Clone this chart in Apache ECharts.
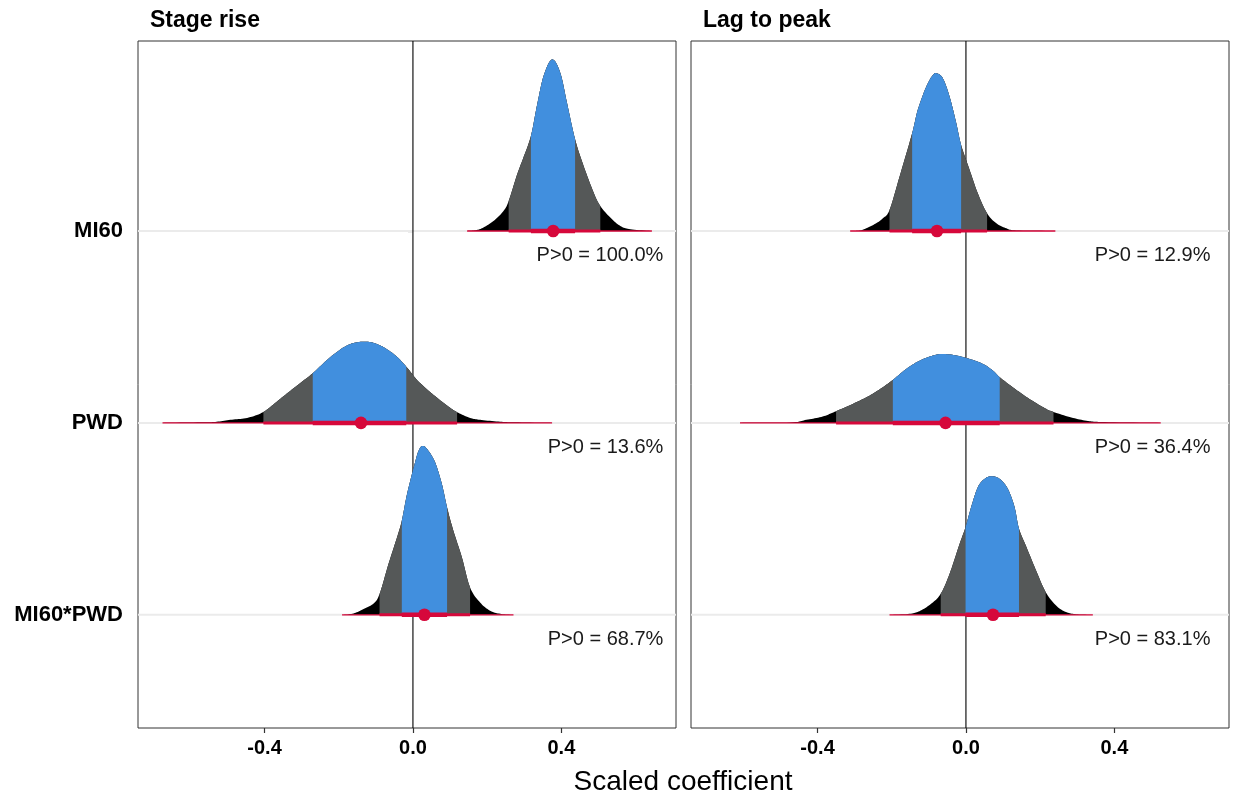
<!DOCTYPE html>
<html>
<head>
<meta charset="utf-8">
<title>Scaled coefficient posteriors</title>
<script src="https://cdn.jsdelivr.net/npm/echarts@6/dist/echarts.min.js"></script>
<style>
  html, body { margin: 0; padding: 0; background: #ffffff; }
  #chart { width: 1233px; height: 796px; }
</style>
</head>
<body>
<div id="chart"></div>
<script>
// ---- data -------------------------------------------------------------
const categories = ['MI60', 'PWD', 'MI60*PWD'];
const panelTitles = ['Stage rise', 'Lag to peak'];
const xTicks = [-0.4, 0, 0.4];

// Posterior density outlines: coefficient value (x) and slab height in row units (h)
const stageMI60X = [0.146, 0.172, 0.190, 0.217, 0.244, 0.258, 0.280, 0.298, 0.318, 0.334, 0.352, 0.375, 0.397, 0.415, 0.437, 0.460, 0.487, 0.505, 0.532, 0.559, 0.586, 0.644];
const stageMI60H = [0, 0.005, 0.018, 0.052, 0.104, 0.156, 0.290, 0.384, 0.495, 0.651, 0.807, 0.894, 0.825, 0.669, 0.478, 0.339, 0.200, 0.130, 0.070, 0.026, 0.009, 0];

const stagePWDX = [-0.675, -0.573, -0.533, -0.492, -0.447, -0.403, -0.358, -0.313, -0.270, -0.223, -0.178, -0.137, -0.097, -0.052, -0.018, 0.011, 0.047, 0.092, 0.119, 0.154, 0.181, 0.235, 0.276, 0.375];
const stagePWDH = [0, 0.003, 0.005, 0.016, 0.026, 0.057, 0.125, 0.194, 0.259, 0.342, 0.403, 0.423, 0.411, 0.359, 0.293, 0.224, 0.160, 0.090, 0.056, 0.026, 0.016, 0.006, 0.003, 0];

const stageIntX = [-0.191, -0.160, -0.133, -0.106, -0.090, -0.066, -0.043, -0.030, -0.016, 0.002, 0.015, 0.027, 0.042, 0.060, 0.078, 0.092, 0.109, 0.132, 0.154, 0.181, 0.208, 0.235, 0.271];
const stageIntH = [0, 0.007, 0.030, 0.059, 0.108, 0.264, 0.403, 0.490, 0.628, 0.767, 0.854, 0.880, 0.854, 0.793, 0.681, 0.559, 0.438, 0.299, 0.142, 0.064, 0.021, 0.005, 0];

const lagMI60X = [-0.312, -0.287, -0.269, -0.242, -0.224, -0.206, -0.179, -0.145, -0.130, -0.107, -0.089, -0.078, -0.062, -0.044, -0.026, -0.013, 0.010, 0.032, 0.057, 0.082, 0.109, 0.136, 0.241];
const lagMI60H = [0, 0.002, 0.014, 0.040, 0.066, 0.109, 0.283, 0.509, 0.630, 0.752, 0.813, 0.821, 0.795, 0.700, 0.561, 0.448, 0.318, 0.196, 0.092, 0.040, 0.014, 0.003, 0];

const lagPWDX = [-0.609, -0.473, -0.430, -0.386, -0.350, -0.305, -0.260, -0.224, -0.197, -0.161, -0.125, -0.089, -0.062, -0.026, 0.010, 0.046, 0.073, 0.091, 0.126, 0.171, 0.216, 0.236, 0.284, 0.329, 0.374, 0.525];
const lagPWDH = [0, 0.002, 0.016, 0.033, 0.061, 0.099, 0.142, 0.186, 0.224, 0.281, 0.324, 0.351, 0.359, 0.351, 0.333, 0.307, 0.272, 0.238, 0.186, 0.125, 0.073, 0.057, 0.028, 0.010, 0.004, 0];

const lagIntX = [-0.206, -0.152, -0.125, -0.094, -0.068, -0.044, -0.017, -0.001, 0.014, 0.032, 0.050, 0.068, 0.091, 0.113, 0.131, 0.143, 0.163, 0.189, 0.215, 0.243, 0.270, 0.297, 0.342];
const lagIntH = [0, 0.005, 0.019, 0.057, 0.109, 0.214, 0.370, 0.457, 0.561, 0.665, 0.708, 0.722, 0.708, 0.656, 0.561, 0.448, 0.353, 0.231, 0.118, 0.048, 0.014, 0.003, 0];

// Point estimates (median), 66% and 95% intervals, probability of a positive effect
const stagePoint = [0.378, -0.140, 0.031];
const stageInner = [[0.318, 0.437], [-0.270, -0.018], [-0.030, 0.092]];
const stageOuter = [[0.258, 0.505], [-0.403, 0.119], [-0.090, 0.154]];
const stageProb = ['100.0%', '13.6%', '68.7%'];

const lagPoint = [-0.078, -0.055, 0.073];
const lagInner = [[-0.145, -0.013], [-0.197, 0.091], [-0.001, 0.143]];
const lagOuter = [[-0.206, 0.057], [-0.350, 0.236], [-0.068, 0.215]];
const lagProb = ['12.9%', '36.4%', '83.1%'];

// ---- styling ------------------------------------------------------------
const FONT = '"Liberation Sans", Arial, Helvetica, sans-serif';
const BLUE = '#418fde';
const GREY = '#555858';
const TAIL = '#000000';
const RED = '#d6083b';
const X_MIN = -0.741, X_MAX = 0.709;
const Y_MIN = 0.41, Y_MAX = 3.99;

const panels = [
  {
    title: panelTitles[0],
    dens: [{ x: stageMI60X, h: stageMI60H }, { x: stagePWDX, h: stagePWDH }, { x: stageIntX, h: stageIntH }],
    point: stagePoint, inner: stageInner, outer: stageOuter, prob: stageProb, labelX: 0.675
  },
  {
    title: panelTitles[1],
    dens: [{ x: lagMI60X, h: lagMI60H }, { x: lagPWDX, h: lagPWDH }, { x: lagIntX, h: lagIntH }],
    point: lagPoint, inner: lagInner, outer: lagOuter, prob: lagProb, labelX: 0.659
  }
];

const rowOf = i => categories.length - i;

// Smooth the outline in screen space (Catmull-Rom), never dipping below the baseline
function smoothOutline(pts, base) {
  const out = [];
  const n = pts.length;
  const steps = 10;
  for (let k = 0; k < n - 1; k++) {
    const p0 = pts[Math.max(k - 1, 0)], p1 = pts[k], p2 = pts[k + 1], p3 = pts[Math.min(k + 2, n - 1)];
    for (let s = 0; s < steps; s++) {
      const t = s / steps, t2 = t * t, t3 = t2 * t;
      const x = 0.5 * ((2 * p1[0]) + (-p0[0] + p2[0]) * t + (2 * p0[0] - 5 * p1[0] + 4 * p2[0] - p3[0]) * t2 + (-p0[0] + 3 * p1[0] - 3 * p2[0] + p3[0]) * t3);
      const y = 0.5 * ((2 * p1[1]) + (-p0[1] + p2[1]) * t + (2 * p0[1] - 5 * p1[1] + 4 * p2[1] - p3[1]) * t2 + (-p0[1] + 3 * p1[1] - 3 * p2[1] + p3[1]) * t3);
      out.push([x, Math.min(y, base)]);
    }
  }
  out.push([pts[n - 1][0], base]);
  return out;
}

// Part of the slab between two screen x positions, closed along the baseline
function clipOutline(pts, x0, x1, base) {
  const out = [];
  for (let k = 0; k < pts.length; k++) {
    const a = pts[k];
    if (a[0] >= x0 && a[0] <= x1) out.push(a);
    if (k < pts.length - 1) {
      const b = pts[k + 1];
      [x0, x1].forEach(xc => {
        if ((a[0] - xc) * (b[0] - xc) < 0) {
          const t = (xc - a[0]) / (b[0] - a[0]);
          out.push([xc, a[1] + t * (b[1] - a[1])]);
        }
      });
    }
  }
  if (!out.length) return out;
  out.push([out[out.length - 1][0], base], [out[0][0], base]);
  return out;
}

function slabRenderer(panel) {
  return function (params, api) {
    const i = params.dataIndex;
    const row = rowOf(i);
    const d = panel.dens[i];
    const base = api.coord([0, row])[1];
    const raw = d.x.map((x, k) => api.coord([x, row + d.h[k]]));
    const outline = smoothOutline(raw, base);
    const px = v => api.coord([v, row])[0];

    const children = [];
    children.push({ type: 'polygon', shape: { points: outline }, style: { fill: TAIL } });
    children.push({ type: 'polygon', shape: { points: clipOutline(outline, px(panel.outer[i][0]), px(panel.outer[i][1]), base) }, style: { fill: GREY } });
    children.push({ type: 'polygon', shape: { points: clipOutline(outline, px(panel.inner[i][0]), px(panel.inner[i][1]), base) }, style: { fill: BLUE } });

    const seg = (a, b, w) => ({
      type: 'line',
      shape: { x1: px(a), y1: base, x2: px(b), y2: base },
      style: { stroke: RED, lineWidth: w, lineCap: 'butt' }
    });
    children.push(seg(d.x[0], d.x[d.x.length - 1], 1.3));
    children.push(seg(panel.outer[i][0], panel.outer[i][1], 3));
    children.push(seg(panel.inner[i][0], panel.inner[i][1], 4.5));
    const c = api.coord([panel.point[i], row]);
    children.push({ type: 'circle', shape: { cx: c[0], cy: c[1], r: 6.3 }, style: { fill: RED } });

    children.push({
      type: 'text',
      style: {
        text: 'P>0 = ' + panel.prob[i],
        x: px(panel.labelX), y: base + 25,
        align: 'right', verticalAlign: 'middle',
        font: '20px ' + FONT, fill: '#1a1a1a'
      }
    });
    return { type: 'group', children };
  };
}

function gridlineRenderer(params, api) {
  const cs = params.coordSys;
  const y = api.coord([0, rowOf(params.dataIndex)])[1];
  return {
    type: 'line',
    shape: { x1: cs.x, y1: y, x2: cs.x + cs.width, y2: y },
    style: { stroke: '#ebebeb', lineWidth: 2 }
  };
}

function zeroRenderer(params, api) {
  const top = api.coord([0, Y_MAX]);
  const bottom = api.coord([0, Y_MIN]);
  return {
    type: 'line',
    shape: { x1: top[0], y1: top[1], x2: bottom[0], y2: bottom[1] },
    style: { stroke: '#000000', lineWidth: 1.1 }
  };
}

const gridBoxes = [
  { left: 138, top: 41, width: 538, height: 687 },
  { left: 691, top: 41, width: 538, height: 687 }
];

const option = {
  animation: false,
  backgroundColor: '#ffffff',
  textStyle: { fontFamily: FONT },
  grid: gridBoxes.map(g => Object.assign({ show: true, borderColor: '#333333', borderWidth: 1, backgroundColor: '#ffffff', containLabel: false }, g)),
  xAxis: panels.map((p, gi) => ({
    type: 'value', gridIndex: gi, min: X_MIN, max: X_MAX,
    axisLine: { show: false },
    splitLine: { show: false },
    axisTick: { show: true, customValues: xTicks, length: 5, lineStyle: { color: '#333333', width: 1.2 } },
    axisLabel: {
      show: true, customValues: xTicks, margin: 10,
      formatter: v => Number(v).toFixed(1),
      fontSize: 20, fontWeight: 'bold', color: '#000000', fontFamily: FONT
    }
  })),
  yAxis: panels.map((p, gi) => ({
    type: 'value', gridIndex: gi, min: Y_MIN, max: Y_MAX,
    axisLine: { show: false },
    splitLine: { show: false },
    axisTick: { show: gi === 0, customValues: [1, 2, 3], length: 5, lineStyle: { color: '#333333', width: 1.2 } },
    axisLabel: {
      show: gi === 0, customValues: [1, 2, 3], margin: 15,
      formatter: v => categories[categories.length - Math.round(v)],
      fontSize: 22, fontWeight: 'bold', color: '#000000', fontFamily: FONT
    }
  })),
  series: [],
  graphic: [
    { type: 'text', left: 150, top: 9, style: { text: panelTitles[0], font: 'bold 23px ' + FONT, fill: '#000000' } },
    { type: 'text', left: 703, top: 9, style: { text: panelTitles[1], font: 'bold 23px ' + FONT, fill: '#000000' } },
    { type: 'text', x: 683, y: 782, style: { text: 'Scaled coefficient', font: '28px ' + FONT, fill: '#000000', align: 'center', verticalAlign: 'middle' } }
  ]
};

panels.forEach((p, gi) => {
  const rows = categories.map((c, i) => [p.point[i], rowOf(i)]);
  option.series.push({
    type: 'custom', xAxisIndex: gi, yAxisIndex: gi, z: 1,
    data: rows, encode: { x: 0, y: 1 }, renderItem: gridlineRenderer, silent: true
  });
  option.series.push({
    type: 'custom', xAxisIndex: gi, yAxisIndex: gi, z: 2,
    data: [[0, 2]], encode: { x: 0, y: 1 }, renderItem: zeroRenderer, silent: true
  });
  option.series.push({
    type: 'custom', xAxisIndex: gi, yAxisIndex: gi, z: 3,
    data: rows, encode: { x: 0, y: 1 }, renderItem: slabRenderer(p), silent: true
  });
});

const chart = echarts.init(document.getElementById('chart'), null, { renderer: 'canvas' });
chart.setOption(option);
</script>
</body>
</html>
